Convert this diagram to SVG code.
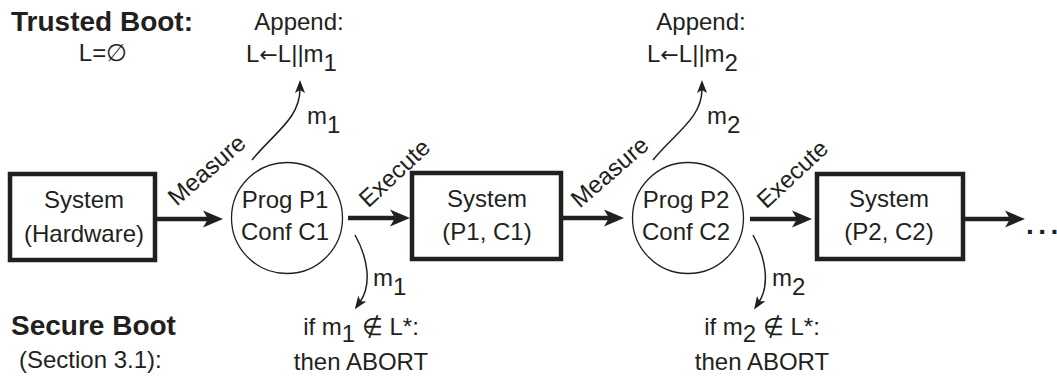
<svg xmlns="http://www.w3.org/2000/svg" width="1057" height="377" viewBox="0 0 1057 377">
  <style>
    text { font-family: "Liberation Sans", Arial, sans-serif; font-size: 24px; fill: #231f20; }
    .c { text-anchor: middle; }
    .b { font-weight: bold; font-size: 28px; }
    .arr { font-family: "DejaVu Sans", sans-serif; font-size: 22px; }
    .box { fill: #fff; stroke: #231f20; stroke-width: 4.5; }
    .node { fill: #fff; stroke: #231f20; stroke-width: 1.3; }
    .thick { fill: none; stroke: #231f20; stroke-width: 4.5; marker-end: url(#bigHead); }
    .thin { fill: none; stroke: #231f20; stroke-width: 1.5; marker-end: url(#smallHead); }
  </style>
  <defs>
    <marker id="bigHead" markerUnits="userSpaceOnUse" markerWidth="22" markerHeight="19" refX="8" refY="8.5" orient="auto" overflow="visible">
      <path d="M0,0 L20,8.5 L0,17 L5,8.5 z" fill="#231f20"/>
    </marker>
    <marker id="smallHead" markerUnits="userSpaceOnUse" markerWidth="14" markerHeight="12" refX="4" refY="5" orient="auto" overflow="visible">
      <path d="M0,0 L13,5 L0,10 L3,5 z" fill="#231f20"/>
    </marker>
  </defs>

  <!-- headings -->
  <g id="trusted-boot">
    <text class="b" x="11" y="31">Trusted Boot:</text>
    <text class="c" x="103" y="61">L=∅</text>
  </g>
  <g id="secure-boot">
    <text class="b" x="11" y="335">Secure Boot</text>
    <text x="19" y="368">(Section 3.1):</text>
  </g>

  <!-- chain of stages -->
  <g id="sys-hw">
    <rect class="box" x="10" y="174" width="145" height="86"/>
    <text class="c" x="84" y="208">System</text>
    <text class="c" x="84" y="242">(Hardware)</text>
  </g>
  <g id="prog1">
    <circle class="node" cx="287" cy="218" r="55.5"/>
    <text class="c" x="285" y="208">Prog P1</text>
    <text class="c" x="285" y="240">Conf C1</text>
  </g>
  <g id="sys-p1">
    <rect class="box" x="412" y="173" width="149" height="86"/>
    <text class="c" x="487" y="207">System</text>
    <text class="c" x="487" y="240">(P1, C1)</text>
  </g>
  <g id="prog2">
    <circle class="node" cx="688" cy="218" r="55.5"/>
    <text class="c" x="686" y="208">Prog P2</text>
    <text class="c" x="686" y="240">Conf C2</text>
  </g>
  <g id="sys-p2">
    <rect class="box" x="817" y="174" width="146" height="85"/>
    <text class="c" x="889" y="207">System</text>
    <text class="c" x="889" y="240">(P2, C2)</text>
  </g>

  <!-- measurement log updates -->
  <g id="append1">
    <text class="c" x="299" y="30">Append:</text>
    <text x="246" y="62">L<tspan class="arr">←</tspan>L||m<tspan dy="9">1</tspan></text>
  </g>
  <g id="append2">
    <text class="c" x="701" y="30">Append:</text>
    <text x="647" y="62">L<tspan class="arr">←</tspan>L||m<tspan dy="9">2</tspan></text>
  </g>

  <!-- secure boot checks -->
  <g id="check1">
    <text class="c" x="361" y="335">if m<tspan dy="7">1</tspan><tspan dy="-7"> ∉ L*:</tspan></text>
    <text class="c" x="361" y="370">then ABORT</text>
  </g>
  <g id="check2">
    <text class="c" x="762" y="335">if m<tspan dy="7">2</tspan><tspan dy="-7"> ∉ L*:</tspan></text>
    <text class="c" x="762" y="370">then ABORT</text>
  </g>

  <g id="connectors">
    <line class="thick" x1="157" y1="219" x2="211" y2="219"/>
    <line class="thick" x1="348" y1="218" x2="398" y2="218"/>
    <line class="thick" x1="563" y1="218" x2="612" y2="218"/>
    <line class="thick" x1="750" y1="219" x2="800" y2="219"/>
    <line class="thick" x1="965" y1="219" x2="1013" y2="219"/>

    <path class="thin" d="M252,160 C275,132 300,118 300,89"/>
    <path class="thin" d="M653,160 C676,132 702,118 702,89"/>
    <path class="thin" d="M355,235 C368,258 372,285 360,302"/>
    <path class="thin" d="M753,235 C766,258 770,285 759,302"/>

    <text transform="translate(212,176) rotate(-41)" class="c">Measure</text>
    <text transform="translate(400,179) rotate(-43)" class="c">Execute</text>
    <text transform="translate(615,178) rotate(-41)" class="c">Measure</text>
    <text transform="translate(798,180) rotate(-43)" class="c">Execute</text>

    <text x="307" y="124">m<tspan dy="9">1</tspan></text>
    <text x="707" y="124">m<tspan dy="9">2</tspan></text>
    <text x="373" y="286">m<tspan dy="9">1</tspan></text>
    <text x="772" y="286">m<tspan dy="9">2</tspan></text>

    <text class="b" x="1026" y="234" font-size="26">.<tspan dx="4.5">.</tspan><tspan dx="4.5">.</tspan></text>
  </g>
</svg>
